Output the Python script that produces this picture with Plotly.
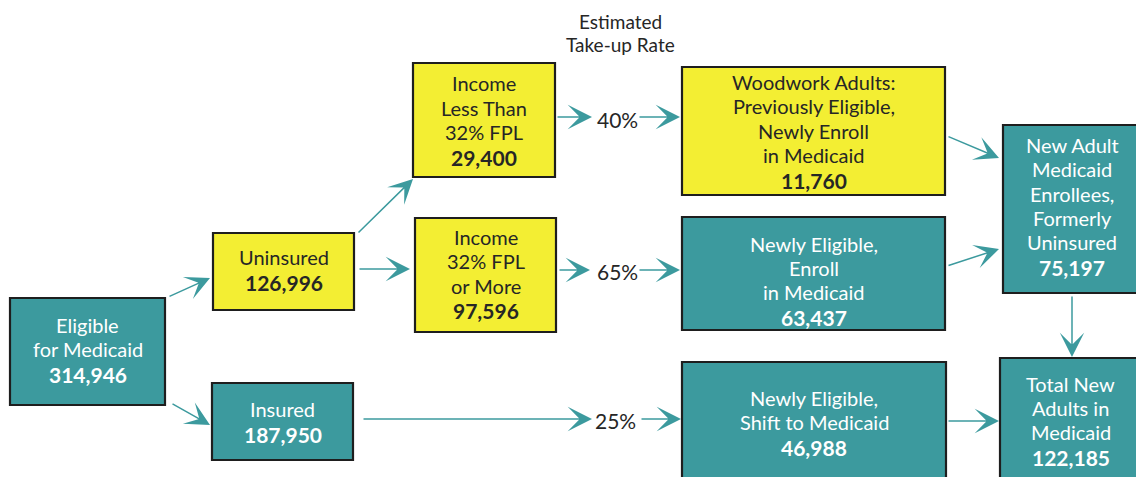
import plotly.graph_objects as go

# ---- data ----
box_titles = [
    ["Eligible", "for Medicaid"],
    ["Uninsured"],
    ["Insured"],
    ["Income", "Less Than", "32% FPL"],
    ["Income", "32% FPL", "or More"],
    ["Woodwork Adults:", "Previously Eligible,", "Newly Enroll", "in Medicaid"],
    ["Newly Eligible,", "Enroll", "in Medicaid"],
    ["Newly Eligible,", "Shift to Medicaid"],
    ["New Adult", "Medicaid", "Enrollees,", "Formerly", "Uninsured"],
    ["Total New", "Adults in", "Medicaid"],
]
box_values = [314946, 126996, 187950, 29400, 97596, 11760, 63437, 46988, 75197, 122185]
take_up_rates = [40, 65, 25]
header_lines = ["Estimated", "Take-up Rate"]

# ---- layout / style ----
TEAL = "#3c9a9e"
YELLOW = "#f3ee33"
DARK = "#262626"
FONT = "Lato"
TSIZE = 20      # title lines
NSIZE = 21      # bold numbers
LH = 1.22       # text box height per font size unit (avoid overlapping lines)
box_fill = [TEAL, YELLOW, TEAL, YELLOW, YELLOW, YELLOW, TEAL, TEAL, TEAL, TEAL]
# x0, x1, y0, y1 (pixel-like layout coordinates)
box_geom = [
    (10, 165, 298, 405),
    (213, 354, 233, 310),
    (212, 353, 383, 460),
    (413, 555, 63, 177),
    (415, 556, 218, 332),
    (682, 945, 67, 195),
    (682, 945, 217, 330),
    (682, 946, 362, 500),
    (1003, 1141, 125, 293),
    (1000, 1141, 358, 500),
]
# centre of the text block (y), nominal line spacing
box_lines = [
    (349.5, 23.5), (269.5, 23), (421.5, 23), (120, 24.5), (273.5, 24.5),
    (131, 22), (280.5, 21), (422.5, 22.5), (206, 22.4), (420.5, 21.7),
]
arrows = [  # tail -> head
    ((168, 297), (210, 278)),
    ((171, 403), (210, 425)),
    ((357, 234), (413, 179)),
    ((358, 269), (410, 269)),
    ((556, 117), (592, 117)),
    ((638, 117), (680, 117)),
    ((558, 270), (590, 270)),
    ((638, 270), (680, 270)),
    ((362, 419), (592, 419)),
    ((640, 419), (681, 419)),
    ((947, 136), (999, 158)),
    ((947, 266), (999, 249)),
    ((947, 421), (999, 421)),
    ((1072, 295), (1072, 357)),
]
rate_pos = [(617, 119), (617, 271), (615, 420)]

# page body has an 8px margin: shift the coordinate frame accordingly
OFF = 8
W, H = 1144 - 2 * OFF, 485 - 2 * OFF

fig = go.Figure()
fig.add_trace(go.Scatter(x=[OFF, OFF + W], y=[OFF, OFF + H], mode="markers",
                         marker=dict(opacity=0), hoverinfo="skip", showlegend=False))

shapes = []
annotations = []
for i, (titles, val) in enumerate(zip(box_titles, box_values)):
    x0, x1, y0, y1 = box_geom[i]
    shapes.append(dict(type="rect", xref="x", yref="y", x0=x0, x1=x1, y0=y0, y1=y1,
                       fillcolor=box_fill[i], line=dict(color="#1e1e1e", width=2.2),
                       layer="below"))
    tcol = "white" if box_fill[i] == TEAL else DARK
    centre, sp = box_lines[i]
    cx = (x0 + x1) / 2
    lines = titles + [f"<b>{val:,}</b>"]
    sizes = [TSIZE] * len(titles) + [NSIZE]
    ys = [0.0]
    for k in range(1, len(lines)):
        step = max(sp, LH * (sizes[k - 1] + sizes[k]) / 2)
        ys.append(ys[-1] + step)
    shift = centre - (ys[0] + ys[-1]) / 2
    for ln, yy, sz in zip(lines, ys, sizes):
        annotations.append(dict(x=cx, y=yy + shift, xref="x", yref="y", text=ln,
                                showarrow=False, xanchor="center", yanchor="middle",
                                font=dict(family=FONT, size=sz, color=tcol)))

for (tx, ty), (hx, hy) in arrows:
    annotations.append(dict(x=hx, y=hy, ax=tx, ay=ty, xref="x", yref="y",
                            axref="x", ayref="y", text="", showarrow=True,
                            arrowhead=3, arrowsize=2.7, arrowwidth=1.5,
                            arrowcolor=TEAL, standoff=0, startstandoff=0))

for r, (px, py) in zip(take_up_rates, rate_pos):
    annotations.append(dict(x=px, y=py, xref="x", yref="y", text=f"{r}%",
                            showarrow=False, font=dict(family=FONT, size=21, color=DARK)))

for k, ln in enumerate(header_lines):
    annotations.append(dict(x=620, y=21 + k * 23.5, xref="x", yref="y", text=ln,
                            showarrow=False, font=dict(family=FONT, size=19, color=DARK)))

fig.update_layout(
    width=W, height=H,
    margin=dict(l=0, r=0, t=0, b=0),
    paper_bgcolor="white", plot_bgcolor="white",
    xaxis=dict(range=[OFF, OFF + W], visible=False, fixedrange=True),
    yaxis=dict(range=[OFF + H, OFF], visible=False, fixedrange=True),
    shapes=shapes, annotations=annotations, showlegend=False,
)
fig.write_html("out.html")
